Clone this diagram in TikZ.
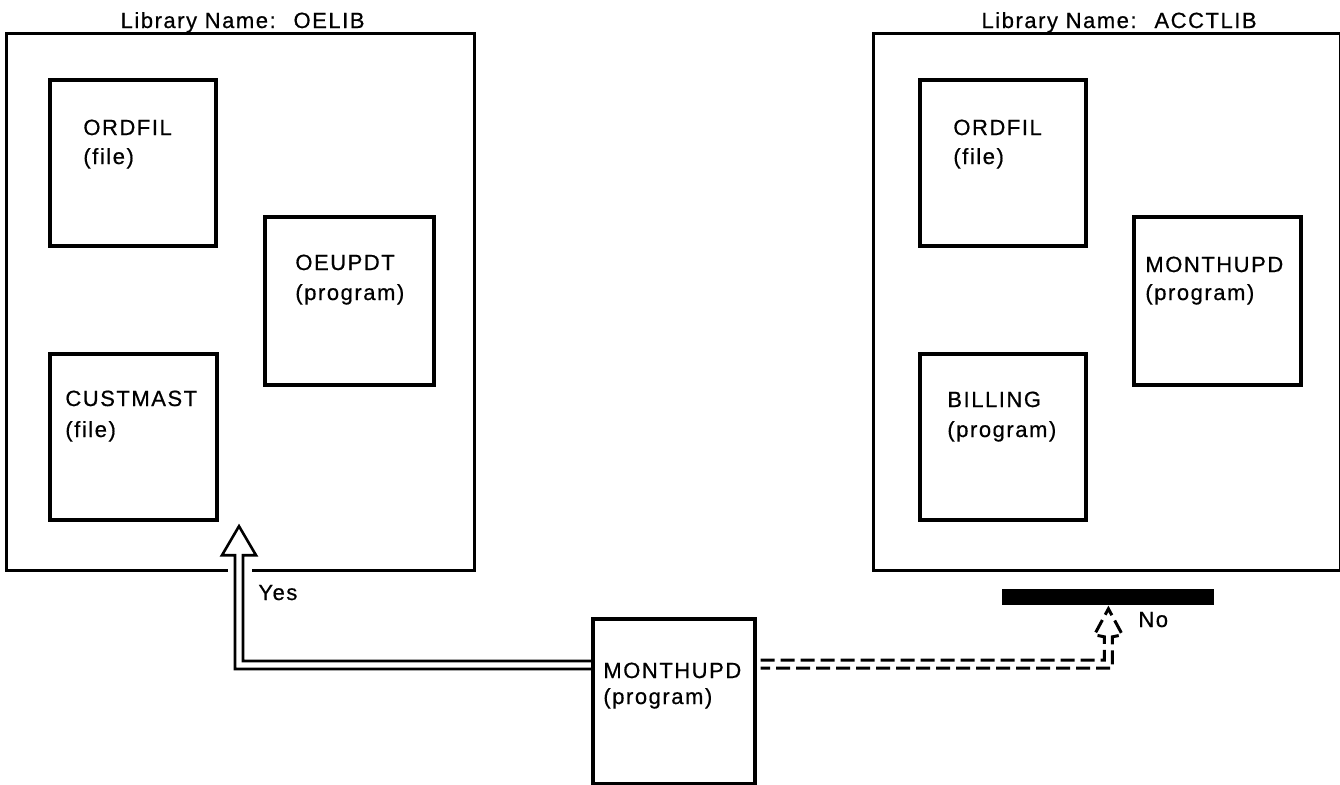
\documentclass[tikz,border=0pt]{standalone}
\usepackage{fontspec}
\setmainfont{Liberation Sans}[LetterSpace=7, FakeBold=0.6]
\usetikzlibrary{calc}
\begin{document}
\begin{tikzpicture}[x=0.5pt,y=-0.5pt,
  lib/.style={draw, line width=1.6pt, inner sep=0pt, anchor=north west},
  obj/.style={draw, line width=1.8pt, inner sep=0pt, anchor=north west},
  lbl/.style={inner sep=0pt, anchor=base west, font=\fontsize{11}{12}\selectfont},
  ttl/.style={inner sep=0pt, anchor=base, font=\fontsize{11}{12}\selectfont},
  conn/.style={line width=1.3pt, line join=miter},
  dconn/.style={conn, line width=1.5pt, dash pattern=on 7pt off 3pt}]
\useasboundingbox (0,0) rectangle (1340,784);
% libraries
\node[lib, minimum width=234pt, minimum height=268.5pt] (lib1) at (5,32) {};
\node[lib, minimum width=233.5pt, minimum height=268.5pt] (lib2) at (872,32) {};
\node[ttl] (ttl1) at ($(lib1.north)+(2,-4)$) {Library Name:~ OELIB};
\node[ttl] (ttl2) at ($(lib2.north)+(12,-4)$) {Library Name:~ ACCTLIB};
% objects in OELIB
\node[obj, minimum width=83pt, minimum height=83pt] (b1) at (48,78) {};
\node[obj, minimum width=84.5pt, minimum height=84pt] (b2) at (263,215) {};
\node[obj, minimum width=83.5pt, minimum height=83pt] (b3) at (48,352) {};
\node[lbl] (t1a) at ($(b1.north west)+(35,57)$) {ORDFIL};
\node[lbl] (t1b) at ($(b1.north west)+(35,86)$) {(file)};
\node[lbl] (t2a) at ($(b2.north west)+(32,55)$) {OEUPDT};
\node[lbl] (t2b) at ($(b2.north west)+(32,85)$) {(program)};
\node[lbl] (t3a) at ($(b3.north west)+(17,54)$) {CUSTMAST};
\node[lbl] (t3b) at ($(b3.north west)+(17,85)$) {(file)};
% objects in ACCTLIB
\node[obj, minimum width=83pt, minimum height=83pt] (b4) at (918,78) {};
\node[obj, minimum width=83.5pt, minimum height=84pt] (b5) at (1132,215) {};
\node[obj, minimum width=83pt, minimum height=83pt] (b6) at (918,352) {};
\node[lbl] (t4a) at ($(b4.north west)+(35,57)$) {ORDFIL};
\node[lbl] (t4b) at ($(b4.north west)+(35,86)$) {(file)};
\node[lbl] (t5a) at ($(b5.north west)+(13,57)$) {MONTHUPD};
\node[lbl] (t5b) at ($(b5.north west)+(13,85)$) {(program)};
\node[lbl] (t6a) at ($(b6.north west)+(29,55)$) {BILLING};
\node[lbl] (t6b) at ($(b6.north west)+(29,85)$) {(program)};
% program being run
\node[obj, minimum width=81pt, minimum height=82.5pt] (mb) at (591,617) {};
\node[lbl] (tma) at ($(mb.north west)+(12,61)$) {MONTHUPD};
\node[lbl] (tmb) at ($(mb.north west)+(12,87)$) {(program)};
% black bar
\node[fill=black, inner sep=0pt, minimum width=106pt, minimum height=8pt, anchor=north west] (bar) at (1002,589) {};
% Yes arrow (hollow double line)
\coordinate (yA) at ($(mb.north west)+(0,44)$);
\coordinate (yB) at ($(mb.north west)+(0,52)$);
\coordinate (ytip) at ($(lib1.south west)+(234,-46)$);
\fill[white] ($(ytip)+(-11,42)$) rectangle ($(ytip)+(13,50)$);
\draw[conn] (yB) -| ($(ytip)+(-4,29)$) -- ++(-13,0) -- (ytip) -- ++(17,29) -- ++(-13,0) |- (yA);
\node[lbl] (yes) at (258,600) {Yes};
% No arrow (dashed double line)
\coordinate (dA) at ($(mb.north east)+(4,43)$);
\coordinate (dB) at ($(mb.north east)+(4,51)$);
\coordinate (ntip) at ($(bar.south)+(0,3)$);
\draw[dconn] (dA) -| ($(ntip)+(-4,28)$) -- ++(-10,-2) -- (ntip) -- ++(14,26) -- ++(-10,2) |- (dB);
\node[lbl] (no) at (1138,627) {No};
\end{tikzpicture}
\end{document}
